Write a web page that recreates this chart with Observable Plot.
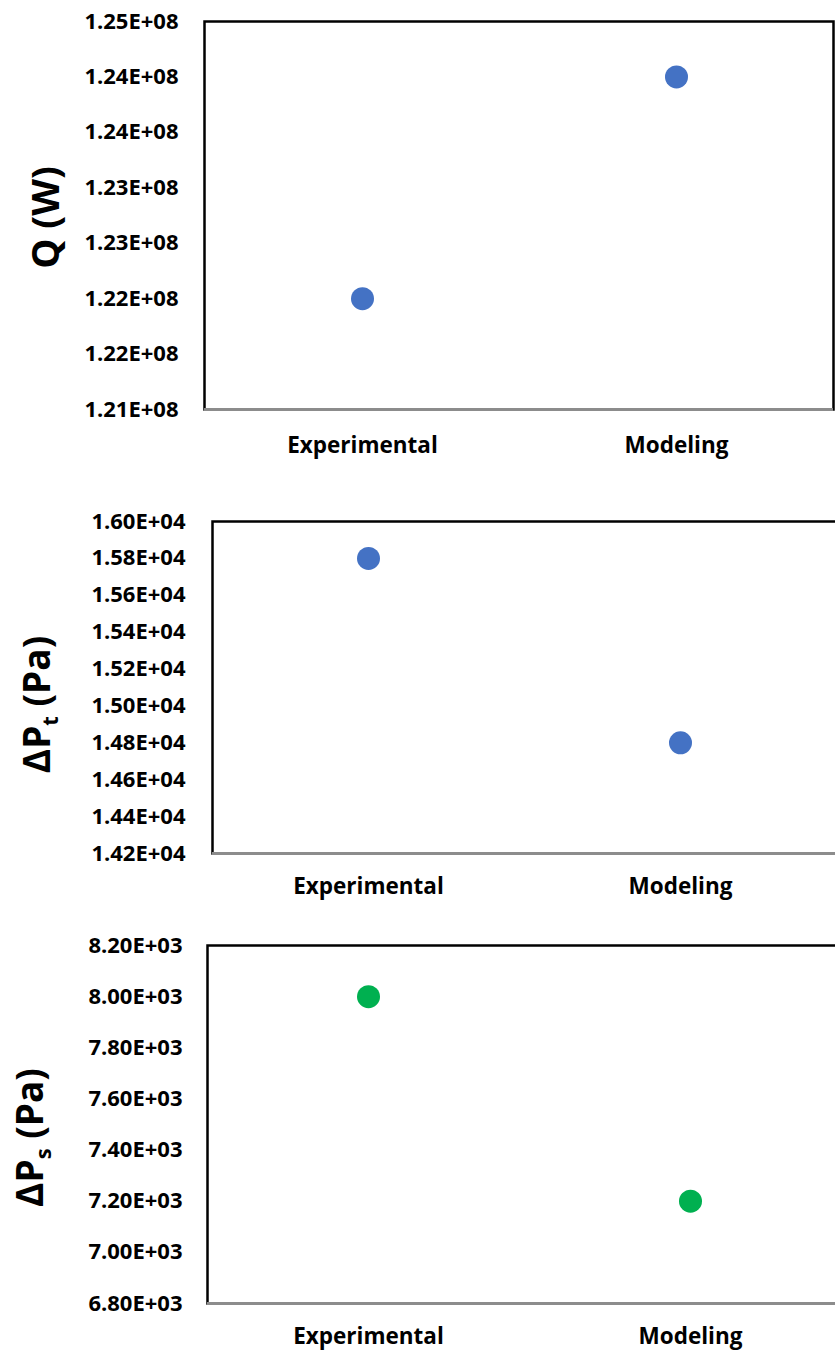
<!DOCTYPE html>
<html>
<head>
<meta charset="utf-8">
<script src="https://cdn.jsdelivr.net/npm/d3@7"></script>
<script src="https://cdn.jsdelivr.net/npm/@observablehq/plot@0.6"></script>
<style>
  html, body { margin: 0; padding: 0; background: #fff; overflow: hidden; }
  .panel { width: 835px; overflow: hidden; position: relative; }
  .panel svg { display: block; max-width: none !important; }
</style>
</head>
<body>
<div id="p1" class="panel" style="height:470px"></div>
<div id="p2" class="panel" style="height:440px"></div>
<div id="p3" class="panel" style="height:443px"></div>
<script>
// ---- data ----
const categories = ["Experimental", "Modeling"];

const qValues = [1.225e8, 1.245e8];
const qTicks = [1.215e8, 1.22e8, 1.225e8, 1.23e8, 1.235e8, 1.24e8, 1.245e8, 1.25e8];
const qTickLabels = ["1.21E+08", "1.22E+08", "1.22E+08", "1.23E+08", "1.23E+08", "1.24E+08", "1.24E+08", "1.25E+08"];

const dptValues = [1.58e4, 1.48e4];
const dptTicks = [14200, 14400, 14600, 14800, 15000, 15200, 15400, 15600, 15800, 16000];
const dptTickLabels = ["1.42E+04", "1.44E+04", "1.46E+04", "1.48E+04", "1.50E+04", "1.52E+04", "1.54E+04", "1.56E+04", "1.58E+04", "1.60E+04"];

const dpsValues = [8000, 7200];
const dpsTicks = [6800, 7000, 7200, 7400, 7600, 7800, 8000, 8200];
const dpsTickLabels = ["6.80E+03", "7.00E+03", "7.20E+03", "7.40E+03", "7.60E+03", "7.80E+03", "8.00E+03", "8.20E+03"];

const titles = [
  {main: "Q (W)", sub: null, rest: null},
  {main: "ΔP", sub: "t", rest: " (Pa)"},
  {main: "ΔP", sub: "s", rest: " (Pa)"}
];

const colors = ["#4472C4", "#4472C4", "#00B050"];

const FONT = "'Open Sans', 'Noto Sans', sans-serif";

function panel(cfg) {
  const data = categories.map((c, i) => ({cat: c, v: cfg.values[i]}));
  const lookup = d => {
    const i = cfg.ticks.findIndex(t => Math.abs(t - d) < 1e-6 * Math.abs(t));
    return i >= 0 ? cfg.labels[i] : "";
  };
  const t = cfg.title;
  const titleText = t.main + (t.sub || "") + (t.rest || "");
  const svg = Plot.plot({
    width: cfg.width,
    height: cfg.height,
    marginLeft: cfg.ml,
    marginRight: cfg.mr,
    marginTop: cfg.mt,
    marginBottom: cfg.mb,
    style: {fontFamily: FONT, fontSize: "22px", fontWeight: 700, color: "#000", background: "#fff", overflow: "visible", maxWidth: "none"},
    x: {type: "point", domain: categories, padding: 0.5, label: null, tickSize: 0, tickPadding: cfg.xpad},
    y: {domain: [cfg.ticks[0], cfg.ticks[cfg.ticks.length - 1]], ticks: cfg.ticks, tickFormat: lookup, tickSize: 0, tickPadding: cfg.ypad, label: null},
    marks: [
      Plot.frame({stroke: "#000", strokeWidth: 2.5}),
      Plot.ruleY([cfg.ticks[0]], {stroke: "#8c8c8c", strokeWidth: 3}),
      Plot.dot(data, {x: "cat", y: "v", r: 11.5, fill: cfg.color, stroke: "none"}),
      Plot.text([titleText], {frameAnchor: "left", textAnchor: "middle", lineAnchor: "middle", text: d => d, rotate: -90, dx: cfg.tdx, dy: cfg.tdy, fontSize: cfg.tfs, fontWeight: 700, fill: "#000"})
    ]
  });
  svg.style.maxWidth = "none";
  d3.select(svg).selectAll('g[aria-label^="x-axis"] text').style("font-size", "22.5px");
  // rebuild the title with a subscript
  if (t.sub) {
    d3.select(svg).selectAll("text").filter(function () { return this.textContent === titleText; })
      .each(function () {
        const el = d3.select(this);
        el.text(null);
        el.append("tspan").text(t.main);
        el.append("tspan").attr("font-size", "22px").attr("dy", "8").text(t.sub);
        el.append("tspan").attr("dy", "-8").text(t.rest);
      });
  }
  return svg;
}

document.getElementById("p1").appendChild(panel({
  values: qValues, ticks: qTicks, labels: qTickLabels, title: titles[0], color: colors[0],
  width: 835, height: 470, ml: 204, mr: 2, mt: 21, mb: 61, xpad: 28, ypad: 26, tdx: -158, tdy: 2, tfs: 38
}));
document.getElementById("p2").appendChild(panel({
  values: dptValues, ticks: dptTicks, labels: dptTickLabels, title: titles[1], color: colors[1],
  width: 836, height: 440, ml: 212, mr: 0, mt: 51, mb: 57, xpad: 25, ypad: 27, tdx: -174, tdy: 17, tfs: 37
}));
document.getElementById("p3").appendChild(panel({
  values: dpsValues, ticks: dpsTicks, labels: dpsTickLabels, title: titles[2], color: colors[2],
  width: 851, height: 443, ml: 207, mr: 0, mt: 35, mb: 50, xpad: 25, ypad: 25, tdx: -176, tdy: 13, tfs: 37
}));
</script>
</body>
</html>
